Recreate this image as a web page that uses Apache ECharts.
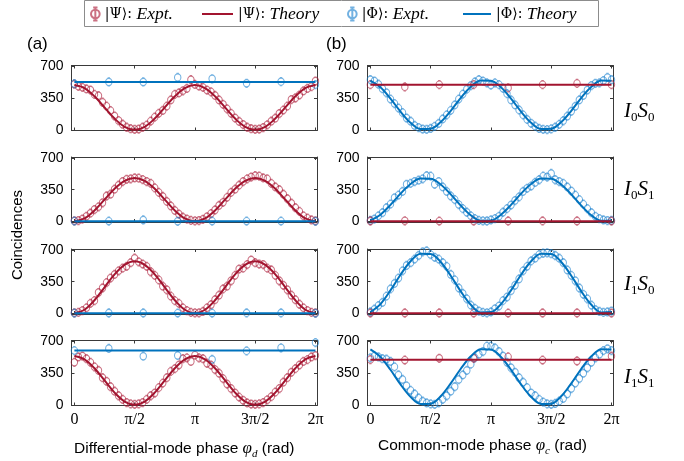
<!DOCTYPE html>
<html>
<head>
    <meta charset="utf-8">
    <title>Coincidences</title>
    <script src="https://cdn.jsdelivr.net/npm/echarts@6/dist/echarts.min.js"></script>
    <style>
        html, body { margin: 0; background: #fff; }
        #main { width: 684px; height: 461px; }
    </style>
</head>
<body>
<div id="main"></div>
<script type="text/javascript">
    // tick positions and labels (radians)
    var xTicks = [0, Math.PI / 2, Math.PI, 3 * Math.PI / 2, 2 * Math.PI];
    var xTickLabels = ['0', 'π/2', 'π', '3π/2', '2π'];
    var yTicks = [0, 350, 700];
    var rowNames = [['0', '0'], ['0', '1'], ['1', '0'], ['1', '1']];

    // (a) differential-mode scan: |Psi> dense points, step pi/30
    var dPsiExpt00 = [505,482,470,452,440,392,378,305,262,212,152,102,62,28,12,5,8,28,52,96,140,182,214,262,330,392,408,432,458,555,502,
                      485,470,440,420,380,330,282,232,182,130,92,58,28,12,5,8,25,55,95,128,180,218,262,335,352,385,430,458,478,540];
    var dPsiExpt01 = [5,8,25,55,90,130,160,205,280,300,355,400,440,465,470,480,478,462,440,420,370,320,275,220,170,120,80,45,25,10,5,
                      8,22,50,85,125,175,210,265,320,355,400,440,470,490,505,500,480,470,420,380,350,300,250,200,150,110,60,35,15,5];
    var dPsiExpt10 = [5,10,30,60,110,140,230,280,340,390,430,470,500,520,560,610,570,545,520,460,420,370,300,260,190,140,110,60,30,10,5,
                      5,20,60,95,150,200,270,300,360,420,490,500,540,590,560,545,540,500,480,420,360,310,260,200,150,100,60,30,10,5];
    var dPsiExpt11 = [470,530,540,510,470,420,380,300,260,200,150,100,60,25,10,5,10,25,60,100,130,190,240,300,370,400,440,510,520,480,550,
                      520,510,460,440,390,350,290,230,180,130,85,50,20,8,5,10,25,55,90,140,180,250,300,360,400,440,480,500,530,545];
    // theory curves, step pi/12
    var dPsiTheory00 = [495,462,371,248,124,33,0,33,124,248,371,462,495,462,371,248,124,33,0,33,124,248,371,462,495];
    var dPsiTheory01 = [0,32,120,240,360,448,480,448,360,240,120,32,0,32,120,240,360,448,480,448,360,240,120,32,0];
    var dPsiTheory10 = [0,39,144,288,431,536,575,536,431,288,144,39,0,39,144,288,431,536,575,536,431,288,144,39,0];
    var dPsiTheory11 = [540,504,405,270,135,36,0,36,135,270,405,504,540,504,405,270,135,36,0,36,135,270,405,504,540];
    // |Phi> sparse points, step 2pi/7, and flat theory level
    var dPhiExpt00 = [510,530,530,580,565,515,533,500];
    var dPhiExpt01 = [2,2,15,0,2,2,2,0];
    var dPhiExpt10 = [2,3,3,2,2,4,4,0];
    var dPhiExpt11 = [600,624,538,546,502,597,631,689];
    var dPhiLevel = [530, 0, 0, 600];

    // (b) common-mode scan: |Phi> dense points
    var cPhiExpt00 = [555,540,505,455,410,340,290,240,190,130,95,48,25,8,5,15,38,70,120,165,215,275,340,395,450,490,530,555,540,520,495,
                      520,500,460,400,330,275,220,165,115,72,40,15,5,2,10,28,60,100,150,205,260,330,380,440,490,515,520,545,580,555];
    var cPhiExpt01 = [10,25,60,95,150,190,260,290,330,410,420,440,455,470,505,500,410,440,380,330,280,240,185,140,100,60,30,10,5,3,15,
                      30,55,100,140,180,230,270,330,365,390,430,460,500,490,530,460,440,420,380,335,290,240,190,140,95,55,30,15,8,10];
    var cPhiExpt10 = [15,45,85,120,190,270,330,390,470,530,560,600,640,680,690,650,620,600,560,520,430,370,280,220,160,90,55,25,10,5,15,
                      50,80,140,180,250,310,380,470,520,580,610,650,665,670,660,640,610,560,480,420,360,280,210,160,90,40,20,10,15,25];
    var cPhiExpt11 = [520,540,530,510,505,480,420,330,280,210,160,120,75,40,20,10,5,20,60,100,150,200,280,330,380,450,520,560,590,650,650,
                      630,590,540,470,410,360,300,250,190,130,100,60,30,10,5,15,40,70,120,180,240,290,350,410,470,520,560,600,620,600];
    var cPhiTheory00 = [544,470,345,201,78,8,11,85,210,354,477,547,544,470,345,201,78,8,11,85,210,354,477,547,544];
    var cPhiTheory01 = [9,73,182,306,413,473,471,407,298,174,67,7,9,73,182,306,413,473,471,407,298,174,67,7,9];
    var cPhiTheory10 = [13,102,254,427,576,660,657,568,416,243,94,10,13,102,254,427,576,660,657,568,416,243,94,10,13];
    var cPhiTheory11 = [613,530,388,226,88,9,12,95,237,399,537,616,613,530,388,226,88,9,12,95,237,399,537,616,613];
    var cPsiExpt00 = [500,475,500,500,464,500,514,500];
    var cPsiExpt01 = [3,5,2,2,3,4,3,2];
    var cPsiExpt10 = [2,3,3,2,2,3,3,2];
    var cPsiExpt11 = [500,495,515,515,531,495,485,538];
    var cPsiLevel = [500, 0, 0, 500];

    // sampling grids of the scans
    var denseX = [], theoryX = [], sparseX = [];
    for (var i = 0; i <= 60; i++) denseX.push(i * Math.PI / 30);
    for (var i = 0; i <= 24; i++) theoryX.push(i * Math.PI / 12);
    for (var i = 0; i <= 7; i++) sparseX.push(i * 2 * Math.PI / 7);

    var PSI_EXPT = '|Ψ⟩: Expt.', PSI_TH = '|Ψ⟩: Theory';
    var PHI_EXPT = '|Φ⟩: Expt.', PHI_TH = '|Φ⟩: Theory';
    var RED = '#A2142F', BLUE = '#0072BD';
    var RED_M = 'rgba(172,28,56,0.78)', BLUE_M = 'rgba(20,125,205,0.75)';
    var AXIS = '#3a3a3a';
    // open circle with short error bar caps (plot) and the taller legend glyph
    var marker = 'path://M2 10 A8 8 0 1 0 18 10 A8 8 0 1 0 2 10 Z M7 1 L13 1 M7 19 L13 19';
    var legendMarker = 'path://M2 12 A8 8 0 1 0 18 12 A8 8 0 1 0 2 12 Z M10 0 L10 24 M6 0 L14 0 M6 24 L14 24';

    var panels = [
        [dPsiExpt00, dPsiTheory00, dPhiExpt00, dPhiLevel[0]],
        [dPsiExpt01, dPsiTheory01, dPhiExpt01, dPhiLevel[1]],
        [dPsiExpt10, dPsiTheory10, dPhiExpt10, dPhiLevel[2]],
        [dPsiExpt11, dPsiTheory11, dPhiExpt11, dPhiLevel[3]],
        [cPhiExpt00, cPhiTheory00, cPsiExpt00, cPsiLevel[0]],
        [cPhiExpt01, cPhiTheory01, cPsiExpt01, cPsiLevel[1]],
        [cPhiExpt10, cPhiTheory10, cPsiExpt10, cPsiLevel[2]],
        [cPhiExpt11, cPhiTheory11, cPsiExpt11, cPsiLevel[3]]
    ];

    var colLeft = [71.5, 367.5], colWidth = 245.5;
    var rowTop = [65.5, 157, 249, 340.5], rowHeight = 65;

    function pairs(xs, ys) {
        return ys.map(function (y, k) { return [xs[k], y]; });
    }
    function scatter(name, g, data, color) {
        return { name: name, type: 'scatter', xAxisIndex: g, yAxisIndex: g, data: data, z: 2,
                 symbol: marker, symbolSize: [7.2, 8.1], symbolKeepAspect: true,
                 itemStyle: { color: 'transparent', borderColor: color, borderWidth: 1.1 } };
    }
    function line(name, g, data, color) {
        return { name: name, type: 'line', xAxisIndex: g, yAxisIndex: g, data: data, z: 3,
                 smooth: 0.35, symbol: 'none', lineStyle: { color: color, width: 2 },
                 itemStyle: { color: color } };
    }

    var grid = [], xAxis = [], yAxis = [], series = [];
    for (var g = 0; g < 8; g++) {
        var col = Math.floor(g / 4), row = g % 4;
        grid.push({ left: colLeft[col], top: rowTop[row], width: colWidth, height: rowHeight });
        xAxis.push({
            gridIndex: g, type: 'value', min: -0.075, max: 2 * Math.PI + 0.04, position: 'bottom',
            axisLine: { onZero: false, lineStyle: { color: AXIS } },
            axisTick: { inside: true, length: 3, customValues: xTicks, lineStyle: { color: AXIS } },
            axisLabel: { show: row === 3, customValues: xTicks, margin: 6, color: '#000',
                         fontFamily: 'Liberation Serif', fontSize: 16,
                         formatter: function (v) {
                             for (var k = 0; k < xTicks.length; k++) {
                                 if (Math.abs(xTicks[k] - v) < 1e-6) return xTickLabels[k];
                             }
                             return '';
                         } },
            splitLine: { show: false }
        });
        yAxis.push({
            gridIndex: g, type: 'value', min: -8, max: 712, position: 'left',
            axisLine: { show: true, onZero: false, lineStyle: { color: AXIS } },
            axisTick: { show: true, inside: true, length: 3, customValues: yTicks, lineStyle: { color: AXIS } },
            axisLabel: { customValues: yTicks, margin: 8, color: '#000', fontFamily: 'Liberation Sans', fontSize: 14 },
            splitLine: { show: false }
        });

        var p = panels[g];
        if (col === 0) {
            series.push(scatter(PSI_EXPT, g, pairs(denseX, p[0]), RED_M));
            series.push(scatter(PHI_EXPT, g, pairs(sparseX, p[2]), BLUE_M));
            series.push(line(PSI_TH, g, pairs(theoryX, p[1]), RED));
            series.push(line(PHI_TH, g, [[0, p[3]], [2 * Math.PI, p[3]]], BLUE));
        } else {
            series.push(scatter(PHI_EXPT, g, pairs(denseX, p[0]), BLUE_M));
            series.push(scatter(PSI_EXPT, g, pairs(sparseX, p[2]), RED_M));
            series.push(line(PHI_TH, g, pairs(theoryX, p[1]), BLUE));
            series.push(line(PSI_TH, g, [[0, p[3]], [2 * Math.PI, p[3]]], RED));
        }
    }
    // mirrored top / right axes to close the boxes
    for (var g = 0; g < 8; g++) {
        xAxis.push({
            gridIndex: g, type: 'value', min: -0.075, max: 2 * Math.PI + 0.04, position: 'top',
            axisLine: { onZero: false, lineStyle: { color: AXIS } },
            axisTick: { inside: true, length: 3, customValues: xTicks, lineStyle: { color: AXIS } },
            axisLabel: { show: false }, splitLine: { show: false }
        });
        yAxis.push({
            gridIndex: g, type: 'value', min: -8, max: 712, position: 'right',
            axisLine: { show: true, onZero: false, lineStyle: { color: AXIS } },
            axisTick: { show: true, inside: true, length: 3, customValues: yTicks, lineStyle: { color: AXIS } },
            axisLabel: { show: false }, splitLine: { show: false }
        });
    }

    var legendText = {
        fontFamily: 'Liberation Serif', fontSize: 16, color: '#000',
        rich: {
            n: { fontFamily: 'DejaVu Serif', fontSize: 14, color: '#000' },
            e: { fontFamily: 'Liberation Serif', fontStyle: 'italic', fontSize: 17.5, color: '#000' }
        }
    };
    function legendFormatter(name) {
        var cut = name.indexOf(': ') + 2;
        return '{n|' + name.slice(0, cut) + '}{e|' + name.slice(cut) + '}';
    }
    function legendItem(name, left, w, h, icon) {
        return { data: [{ name: name, icon: icon }], left: left, top: 5, itemWidth: w, itemHeight: h, itemGap: 3,
                 padding: 0, formatter: legendFormatter, textStyle: legendText, selectedMode: false };
    }

    function rowLabel(k) {
        return '{i|I}{s|' + rowNames[k][0] + '}{i|S}{s|' + rowNames[k][1] + '}';
    }
    var rowLabelY = [114, 192, 287, 380];
    var rowRich = {
        i: { fontFamily: 'Liberation Serif', fontStyle: 'italic', fontSize: 21, lineHeight: 26, verticalAlign: 'middle' },
        s: { fontFamily: 'Liberation Serif', fontSize: 13, lineHeight: 12, verticalAlign: 'bottom' }
    };
    var titleRich = {
        t: { font: '15.5px "Liberation Sans"' },
        v: { font: 'italic 17px "Liberation Serif"', lineHeight: 22, verticalAlign: 'middle' },
        s: { font: 'italic 11px "Liberation Serif"', lineHeight: 10, verticalAlign: 'bottom' }
    };
    var graphic = [
        { type: 'rect', left: 84, top: 0, z: -1,
          shape: { width: 514, height: 26 }, style: { fill: '#fff', stroke: '#8c8c8c', lineWidth: 1 } },
        { type: 'text', left: 27, top: 36, style: { text: '(a)', font: '17px "Liberation Sans"', fill: '#000' } },
        { type: 'text', left: 326, top: 36, style: { text: '(b)', font: '17px "Liberation Sans"', fill: '#000' } },
        { type: 'text', left: 10, top: 190, rotation: Math.PI / 2,
          style: { text: 'Coincidences', font: '15px "Liberation Sans"', fill: '#000' } },
        { type: 'text', left: 74, top: 440,
          style: { text: '{t|Differential-mode phase }{v|φ}{s|d}{t| (rad)}', fill: '#000', rich: titleRich } },
        { type: 'text', left: 378, top: 437,
          style: { text: '{t|Common-mode phase }{v|φ}{s|c}{t| (rad)}', fill: '#000', rich: titleRich } }
    ];
    for (var k = 0; k < 4; k++) {
        graphic.push({ type: 'text', left: 624, top: rowLabelY[k] - 13,
                       style: { text: rowLabel(k), rich: rowRich, fill: '#000' } });
    }

    var myChart = echarts.init(document.getElementById('main'));
    var option = {
        animation: false,
        legend: [
            legendItem(PSI_EXPT, 90, 9, 13, legendMarker),
            legendItem(PSI_TH, 202, 31, 2, 'rect'),
            legendItem(PHI_EXPT, 347, 9, 13, legendMarker),
            legendItem(PHI_TH, 463, 28, 2, 'rect')
        ],
        grid: grid,
        xAxis: xAxis,
        yAxis: yAxis,
        series: series,
        graphic: graphic
    };
    myChart.setOption(option);
</script>
</body>
</html>
